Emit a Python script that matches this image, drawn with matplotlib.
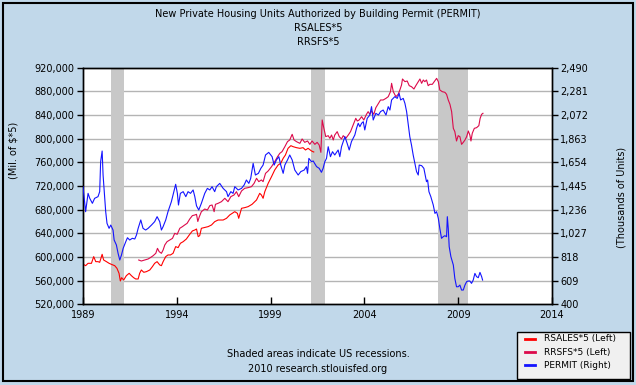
import matplotlib
matplotlib.use("Agg")
import matplotlib.pyplot as plt
from matplotlib.patches import Rectangle
from matplotlib.lines import Line2D

# ---- data (decimal years) ----
rsales_x = [1989.00, 1989.14, 1989.27, 1989.45, 1989.57, 1989.68, 1989.80, 1989.89, 1990.02, 1990.10,
            1990.25, 1990.39, 1990.51, 1990.69, 1990.81, 1990.92, 1990.99, 1991.06, 1991.17, 1991.31,
            1991.46, 1991.58, 1991.70, 1991.81, 1991.94, 1992.02, 1992.11, 1992.24, 1992.38, 1992.56,
            1992.70, 1992.82, 1992.95, 1993.09, 1993.18, 1993.27, 1993.41, 1993.53, 1993.66, 1993.80,
            1993.94, 1994.07, 1994.19, 1994.34, 1994.51, 1994.69, 1994.83, 1994.96, 1995.05, 1995.14,
            1995.22, 1995.31, 1995.67, 1995.85, 1996.02, 1996.20, 1996.47, 1996.65, 1996.82, 1997.09,
            1997.23, 1997.30, 1997.45, 1997.62, 1997.80, 1998.01, 1998.25, 1998.42, 1998.51, 1998.60,
            1998.69, 1998.87, 1999.05, 1999.22, 1999.40, 1999.54, 1999.67, 1999.79, 1999.93, 2000.08,
            2000.20, 2000.38, 2000.56, 2000.73, 2000.86, 2001.00, 2001.18, 2001.30]
rsales = [588000, 585300, 589300, 589300, 600600, 592100, 592100, 591000, 604500, 594900,
          592100, 589300, 587600, 585300, 580800, 572400, 559400, 565000, 561100, 568400,
          572400, 568400, 565000, 562800, 562800, 572400, 578000, 574100, 575200, 578000,
          583700, 589300, 592100, 586500, 585300, 592100, 600600, 603400, 603400, 606200,
          617500, 615800, 623100, 625900, 630400, 638300, 644000, 645600, 647300, 634400,
          636100, 648500, 651300, 654100, 659700, 662500, 662500, 665400, 671000, 676600,
          673800, 665400, 682300, 683400, 685100, 689000, 696400, 707600, 704800, 699200,
          710400, 724500, 735800, 747100, 755500, 758300, 766800, 772400, 783700, 788200,
          786500, 784800, 783700, 784800, 780900, 783700, 779200, 777500]

rrsfs_x = [1991.97, 1992.11, 1992.29, 1992.47, 1992.59, 1992.74, 1992.88, 1992.97, 1993.06, 1993.18,
           1993.27, 1993.36, 1993.48, 1993.62, 1993.77, 1993.89, 1994.02, 1994.16, 1994.30, 1994.42,
           1994.55, 1994.69, 1994.83, 1994.96, 1995.05, 1995.12, 1995.20, 1995.31, 1995.49, 1995.63,
           1995.76, 1995.88, 1995.99, 1996.06, 1996.20, 1996.38, 1996.56, 1996.73, 1996.88, 1997.05,
           1997.18, 1997.30, 1997.45, 1997.62, 1997.80, 1997.98, 1998.12, 1998.25, 1998.37, 1998.51,
           1998.60, 1998.73, 1998.87, 1999.05, 1999.22, 1999.37, 1999.49, 1999.61, 1999.76, 1999.90,
           2000.02, 2000.15, 2000.25, 2000.38, 2000.56, 2000.68, 2000.82, 2000.97, 2001.09, 2001.21,
           2001.36, 2001.48, 2001.59, 2001.68, 2001.75, 2001.84, 2001.94, 2002.07, 2002.16, 2002.25,
           2002.34, 2002.42, 2002.55, 2002.66, 2002.78, 2002.87, 2003.01, 2003.14, 2003.26, 2003.40,
           2003.54, 2003.62, 2003.72, 2003.85, 2003.97, 2004.11, 2004.20, 2004.29, 2004.38, 2004.50,
           2004.61, 2004.75, 2004.86, 2005.00, 2005.15, 2005.27, 2005.39, 2005.45, 2005.54, 2005.68,
           2005.80, 2005.89, 2005.98, 2006.03, 2006.16, 2006.28, 2006.39, 2006.51, 2006.64, 2006.74,
           2006.87, 2006.96, 2007.05, 2007.14, 2007.22, 2007.31, 2007.40, 2007.49, 2007.62, 2007.72,
           2007.85, 2007.94, 2008.02, 2008.15, 2008.29, 2008.38, 2008.47, 2008.56, 2008.65, 2008.74,
           2008.82, 2008.91, 2009.00, 2009.09, 2009.18, 2009.27, 2009.36, 2009.45, 2009.54, 2009.62,
           2009.68, 2009.75, 2009.86, 2009.98, 2010.10, 2010.17, 2010.25, 2010.32]
rrsfs = [594900, 593200, 594900, 596600, 598900, 602200, 606200, 614600, 609000, 606200,
         611800, 620300, 625900, 628700, 631500, 640000, 638300, 648500, 651300, 654100,
         656900, 664200, 669900, 671000, 672100, 660000, 668000, 676600, 681100, 679400,
         686800, 687900, 676600, 689000, 690700, 693500, 699200, 693500, 702000, 704800,
         710400, 702000, 711600, 716100, 717200, 718900, 724500, 733000, 727400, 730200,
         727400, 741400, 745400, 752700, 761200, 769600, 775200, 778100, 786500, 795000,
         797800, 807400, 797800, 795000, 792100, 799500, 793800, 796100, 790400, 796100,
         790400, 793800, 789300, 776900, 831600, 817500, 803400, 805100, 800600, 806200,
         797800, 806200, 811900, 803400, 799500, 805100, 800600, 806200, 811900, 823100,
         834400, 829900, 831600, 837200, 831600, 841200, 845700, 841200, 846800, 841200,
         852400, 859800, 865400, 865400, 868200, 871000, 879500, 893600, 879500, 871000,
         875000, 882300, 890800, 900900, 896400, 897500, 889600, 887900, 884000, 889600,
         896400, 900900, 893600, 899200, 896400, 899200, 889600, 891900, 891900, 896400,
         902000, 896400, 882300, 879500, 878400, 875000, 865400, 858100, 845700, 817500,
         811900, 796100, 805100, 803400, 790400, 793800, 797800, 803400, 813000, 806200,
         796100, 809100, 817500, 818600, 822000, 834400, 841200, 842900]

permit_x = [1989.00, 1989.14, 1989.27, 1989.36, 1989.50, 1989.62, 1989.80, 1989.89, 1989.94, 1990.02,
            1990.07, 1990.16, 1990.21, 1990.28, 1990.39, 1990.48, 1990.60, 1990.66, 1990.78, 1990.87,
            1990.96, 1991.05, 1991.14, 1991.28, 1991.37, 1991.49, 1991.63, 1991.76, 1991.85, 1991.94,
            1992.08, 1992.20, 1992.34, 1992.47, 1992.65, 1992.82, 1992.95, 1993.09, 1993.18, 1993.27,
            1993.41, 1993.53, 1993.71, 1993.89, 1993.94, 1994.03, 1994.09, 1994.19, 1994.34, 1994.48,
            1994.60, 1994.73, 1994.87, 1994.96, 1995.05, 1995.17, 1995.31, 1995.49, 1995.63, 1995.76,
            1995.88, 1996.02, 1996.11, 1996.29, 1996.47, 1996.65, 1996.73, 1996.88, 1997.00, 1997.09,
            1997.27, 1997.45, 1997.59, 1997.71, 1997.84, 1997.94, 1998.07, 1998.19, 1998.35, 1998.48,
            1998.60, 1998.73, 1998.90, 1999.08, 1999.19, 1999.31, 1999.44, 1999.54, 1999.67, 1999.76,
            1999.90, 2000.02, 2000.15, 2000.29, 2000.47, 2000.61, 2000.79, 2000.91, 2000.97, 2001.04,
            2001.18, 2001.27, 2001.45, 2001.59, 2001.71, 2001.80, 2001.89, 2001.98, 2002.07, 2002.19,
            2002.30, 2002.42, 2002.60, 2002.69, 2002.78, 2002.87, 2002.96, 2003.08, 2003.19, 2003.31,
            2003.49, 2003.58, 2003.67, 2003.76, 2003.85, 2003.94, 2004.02, 2004.15, 2004.29, 2004.38,
            2004.47, 2004.61, 2004.75, 2004.86, 2005.00, 2005.15, 2005.27, 2005.36, 2005.45, 2005.62,
            2005.75, 2005.85, 2005.93, 2006.07, 2006.16, 2006.25, 2006.34, 2006.42, 2006.51, 2006.60,
            2006.69, 2006.78, 2006.87, 2006.92, 2007.05, 2007.17, 2007.31, 2007.37, 2007.44, 2007.54,
            2007.67, 2007.76, 2007.85, 2007.94, 2008.02, 2008.11, 2008.20, 2008.29, 2008.38, 2008.42,
            2008.47, 2008.52, 2008.61, 2008.74, 2008.82, 2008.91, 2009.00, 2009.09, 2009.18, 2009.27,
            2009.36, 2009.45, 2009.54, 2009.62, 2009.71, 2009.80, 2009.89, 2009.98, 2010.07, 2010.16,
            2010.25, 2010.30]
permit = [1439, 1218, 1380, 1336, 1292, 1336, 1351, 1395, 1660, 1754,
          1542, 1336, 1218, 1115, 1071, 1100, 1056, 968, 924, 850,
          791, 835, 894, 953, 988, 968, 983, 977, 1012, 1071,
          1145, 1071, 1056, 1071, 1100, 1130, 1174, 1130, 1056, 1086,
          1145, 1218, 1306, 1424, 1460, 1380, 1277, 1380, 1395, 1351,
          1395, 1380, 1410, 1351, 1270, 1233, 1292, 1380, 1424, 1410,
          1439, 1395, 1439, 1468, 1424, 1395, 1351, 1395, 1380, 1439,
          1410, 1424, 1454, 1498, 1468, 1513, 1645, 1542, 1557, 1601,
          1630, 1719, 1742, 1704, 1630, 1675, 1704, 1630, 1557, 1630,
          1675, 1719, 1675, 1586, 1542, 1572, 1586, 1616, 1557, 1689,
          1660, 1666, 1616, 1601, 1566, 1601, 1660, 1689, 1792, 1704,
          1748, 1719, 1763, 1704, 1792, 1837, 1881, 1822, 1763, 1837,
          1896, 1954, 1999, 1969, 1999, 2013, 1940, 2043, 2072, 2146,
          2028, 2087, 2072, 2102, 2116, 2072, 2146, 2116, 2205, 2234,
          2219, 2264, 2205, 2219, 2175, 2102, 1984, 1881, 1807, 1719,
          1645, 1572, 1542, 1630, 1625, 1601, 1483, 1498, 1395, 1351,
          1277, 1203, 1218, 1159, 1071, 983, 997, 1006, 997, 1174,
          1071, 909, 821, 747, 629, 555, 555, 570, 526, 526,
          570, 600, 606, 606, 585, 614, 673, 644, 635, 682,
          644, 614]

recessions = [(1990.5, 1991.2), (2001.17, 2001.88), (2007.92, 2009.5)]

left_ticks = [520000, 560000, 600000, 640000, 680000, 720000, 760000, 800000, 840000, 880000, 920000]
right_ticks = [400, 609, 818, 1027, 1236, 1445, 1654, 1863, 2072, 2281, 2490]
year_ticks = [1989, 1994, 1999, 2004, 2009, 2014]

bg = "#c1d8ea"
c_rsales = "#ff0000"
c_rrsfs = "#dc0a4a"
c_permit = "#1414ff"
fs = 7

fig = plt.figure(figsize=(6.36, 3.85), dpi=100, facecolor=bg)
ax = fig.add_axes([83/636, 1-304.3/385, (552-83)/636, (304.3-67.7)/385])
ax.set_facecolor("white")

for a, b in recessions:
    ax.axvspan(a, b, color="#c8c8c8", lw=0, zorder=1)

for t in left_ticks[1:-1]:
    ax.axhline(t, color="#b4b4b4", lw=1, zorder=0.5)

ax.plot(rsales_x, rsales, color=c_rsales, lw=0.8, zorder=3)
ax.plot(rrsfs_x, rrsfs, color=c_rrsfs, lw=0.8, zorder=3)

ax.set_xlim(1989, 2014)
ax.set_ylim(520000, 920000)
ax.set_xticks(year_ticks)
ax.set_xticklabels([str(y) for y in year_ticks], fontsize=fs)
ax.set_yticks(left_ticks)
ax.set_yticklabels(["{:,}".format(v) for v in left_ticks], fontsize=fs)
ax.tick_params(axis="x", direction="in", length=5, width=1, pad=4)
ax.tick_params(axis="y", direction="out", length=4, width=1, pad=2)

ax2 = ax.twinx()
ax2.plot(permit_x, permit, color=c_permit, lw=0.8, zorder=3)
ax2.set_ylim(400, 2490)
ax2.set_yticks(right_ticks)
ax2.set_yticklabels(["{:,}".format(v) for v in right_ticks], fontsize=fs)
ax2.tick_params(axis="y", direction="out", length=4, width=1, pad=2)
ax2.set_xlim(1989, 2014)

for a_ in (ax, ax2):
    for s in a_.spines.values():
        s.set_linewidth(1.0)
        s.set_color("black")

# axis titles placed like the original
fig.text(14/636, 1-150/385, "(Mil. of $*5)", rotation=90, ha="center", va="center", fontsize=fs)
fig.text(621/636, 1-197/385, "(Thousands of Units)", rotation=90, ha="center", va="center", fontsize=fs)

fig.text(0.5, 1-14/385, "New Private Housing Units Authorized by Building Permit (PERMIT)",
         ha="center", va="center", fontsize=fs)
fig.text(0.5, 1-28/385, "RSALES*5", ha="center", va="center", fontsize=fs)
fig.text(0.5, 1-42/385, "RRSFS*5", ha="center", va="center", fontsize=fs)

fig.text(318/636, 1-354/385, "Shaded areas indicate US recessions.", ha="center", va="center", fontsize=fs)
fig.text(318/636, 1-369/385, "2010 research.stlouisfed.org", ha="center", va="center", fontsize=fs)

# legend box
fig.patches.append(Rectangle((517/636, 1-379/385), 113/636, 47/385, transform=fig.transFigure,
                             facecolor="#f0f0f0", edgecolor="black", lw=1, zorder=5))
leg_rows = [("RSALES*5 (Left)", c_rsales), ("RRSFS*5 (Left)", c_rrsfs), ("PERMIT (Right)", c_permit)]
for i, (lab, col) in enumerate(leg_rows):
    yy = 1 - (339 + i * 13) / 385
    fig.lines.append(Line2D([525/636, 535/636], [yy, yy], transform=fig.transFigure,
                            color=col, lw=2, zorder=6))
    fig.text(544/636, yy, lab, ha="left", va="center", fontsize=6.5, zorder=6)

# outer border
fig.patches.append(Rectangle((3/636, 1-381/385), 630/636, 378/385, transform=fig.transFigure,
                             facecolor="none", edgecolor="black", lw=1.5, zorder=4))

fig.savefig("out.png", dpi=100, facecolor=bg)
